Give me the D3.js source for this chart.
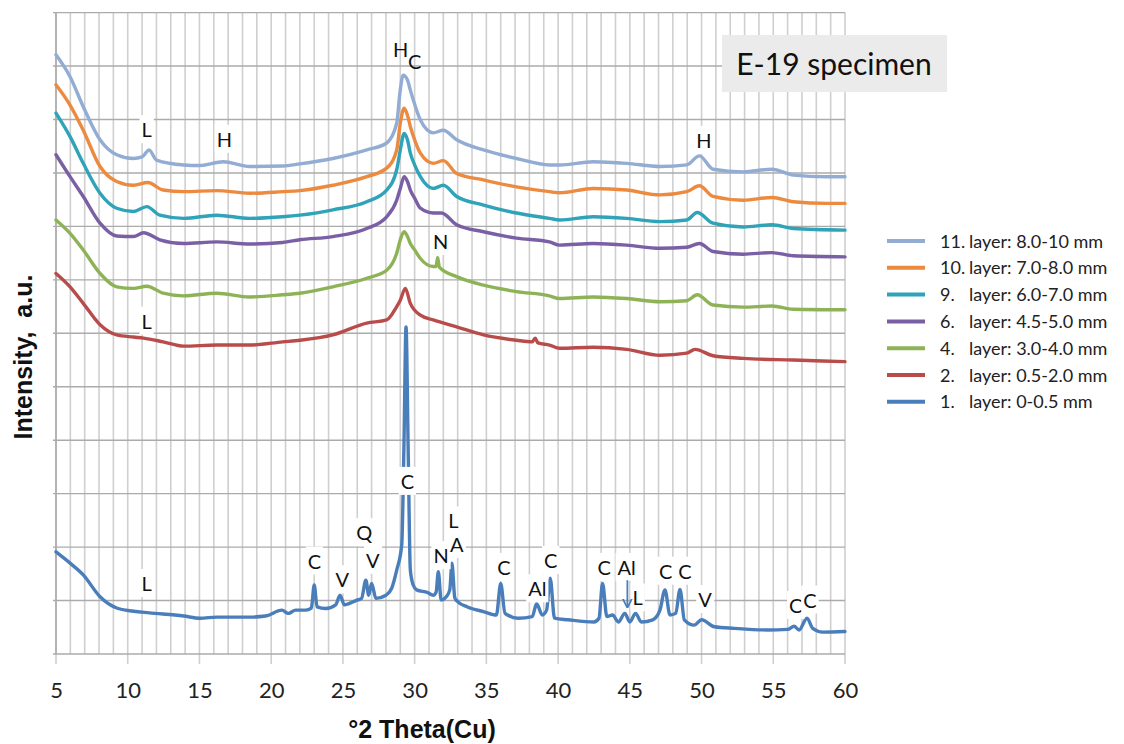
<!DOCTYPE html>
<html><head><meta charset="utf-8">
<script src="https://cdn.jsdelivr.net/npm/d3@7"></script>
<style>body{margin:0;background:#fff}</style>
</head><body><svg id="chart" width="1124" height="744"></svg>
<script>
// ---- data ----
const xTicks = [5,10,15,20,25,30,35,40,45,50,55,60];
const seriesNames = ["11. layer: 8.0-10 mm","10. layer: 7.0-8.0 mm","9.   layer: 6.0-7.0 mm","6.   layer: 4.5-5.0 mm","4.   layer: 3.0-4.0 mm","2.   layer: 0.5-2.0 mm","1.   layer: 0-0.5 mm"];
const seriesColors = ["#93ACD3","#EC8A3F","#2FA3B8","#7A5FA4","#8DB356","#B84C4B","#4A7EBB"];

const layer11 = [[5,11.21],[5.98,10.80],[6.9,10.24],[8.07,9.62],[9.23,9.34],[10.4,9.27],[11.0,9.30],[11.49,9.43],[12.0,9.24],[13.9,9.15],[15.04,9.14],[16.66,9.21],[18.5,9.12],[20.8,9.13],[22.0,9.17],[24.3,9.27],[26.66,9.43],[28.05,9.56],[28.75,9.93],[28.97,10.49],[29.2,10.83],[29.5,10.74],[29.7,10.55],[29.9,10.37],[30.4,9.99],[31.3,9.75],[32.0,9.80],[32.93,9.62],[34.8,9.43],[37.1,9.27],[39.4,9.15],[40.1,9.15],[42.45,9.21],[44.78,9.18],[47.1,9.12],[48.97,9.15],[49.85,9.32],[50.8,9.07],[52.9,9.02],[54.9,9.07],[56.4,8.96],[58.7,8.93],[60,8.93]];
const layer10 = [[5,10.65],[5.98,10.27],[6.9,9.80],[8.07,9.12],[9.23,8.84],[10.4,8.77],[11.4,8.82],[12.47,8.68],[13.9,8.65],[16.2,8.67],[18.5,8.62],[20.8,8.65],[22.0,8.67],[24.3,8.77],[26.66,8.93],[28.05,9.09],[28.75,9.43],[29.0,9.93],[29.27,10.21],[29.5,10.08],[29.7,9.87],[30.0,9.62],[30.4,9.37],[31.3,9.18],[32.0,9.23],[32.93,8.99],[34.8,8.87],[37.1,8.74],[39.4,8.65],[40.1,8.63],[42.45,8.71],[44.78,8.68],[47.1,8.59],[48.97,8.65],[49.85,8.76],[50.8,8.56],[52.9,8.49],[54.9,8.54],[56.4,8.46],[58.7,8.43],[60,8.43]];
const layer9 = [[5,10.12],[5.98,9.68],[6.9,9.18],[8.07,8.62],[9.23,8.34],[10.4,8.28],[11.33,8.37],[12.24,8.21],[13.9,8.15],[16.2,8.21],[18.5,8.15],[20.8,8.18],[22.0,8.21],[24.3,8.31],[26.66,8.46],[28.05,8.68],[28.75,9.06],[29.0,9.43],[29.27,9.74],[29.5,9.62],[29.7,9.37],[30.0,9.15],[30.4,8.93],[31.3,8.71],[32.0,8.77],[32.93,8.56],[34.8,8.40],[37.1,8.25],[39.4,8.15],[40.1,8.12],[42.45,8.18],[44.78,8.15],[47.1,8.09],[48.97,8.12],[49.7,8.26],[50.8,8.06],[52.9,7.99],[54.9,8.03],[56.4,7.96],[60,7.93]];
const layer6 = [[5,9.34],[5.98,8.93],[6.9,8.56],[8.07,8.06],[9.23,7.82],[10.4,7.81],[11.1,7.88],[12.24,7.75],[13.9,7.68],[16.2,7.71],[18.5,7.67],[20.8,7.70],[22.0,7.75],[24.3,7.81],[26.66,7.96],[28.05,8.18],[28.75,8.49],[29.0,8.71],[29.27,8.93],[29.5,8.84],[29.7,8.68],[30.0,8.53],[30.4,8.34],[31.3,8.25],[31.87,8.25],[32.93,8.03],[34.8,7.90],[37.1,7.78],[39.4,7.71],[40.1,7.65],[42.45,7.68],[44.78,7.65],[47.1,7.59],[48.97,7.61],[49.85,7.68],[50.8,7.53],[52.9,7.48],[54.9,7.51],[56.4,7.45],[60,7.43]];
const layer4 = [[5,8.12],[5.98,7.87],[6.9,7.56],[8.07,7.12],[9.23,6.87],[10.4,6.84],[11.33,6.88],[12.47,6.75],[13.9,6.70],[16.2,6.75],[18.5,6.68],[20.8,6.72],[22.0,6.75],[24.3,6.87],[26.66,7.03],[28.05,7.18],[28.75,7.50],[29.0,7.75],[29.27,7.90],[29.5,7.81],[29.7,7.68],[30.0,7.56],[30.4,7.40],[31.3,7.25],[31.5,7.25],[31.6,7.42],[31.72,7.24],[32.93,7.06],[34.8,6.90],[37.1,6.78],[39.4,6.70],[40.1,6.65],[42.45,6.68],[44.78,6.65],[47.1,6.59],[48.97,6.61],[49.7,6.72],[50.8,6.53],[52.9,6.49],[54.9,6.51],[56.4,6.45],[60,6.44]];
const layer2 = [[5,7.12],[5.98,6.87],[6.9,6.56],[8.07,6.16],[9.23,5.97],[10.4,5.93],[11.1,5.91],[12.47,5.84],[13.9,5.76],[16.2,5.78],[18.5,5.78],[20.8,5.84],[22.0,5.87],[24.3,5.97],[26.66,6.19],[28.05,6.25],[28.75,6.50],[29.0,6.62],[29.35,6.84],[29.7,6.56],[30.4,6.34],[31.3,6.25],[32.93,6.12],[34.8,5.97],[37.1,5.87],[38.2,5.84],[38.4,5.91],[38.6,5.82],[39.4,5.78],[40.1,5.72],[42.45,5.74],[44.78,5.70],[47.1,5.59],[48.97,5.63],[49.55,5.70],[50.8,5.58],[52.9,5.53],[56.4,5.50],[60,5.47]];
const layer1 = [[5,1.91],[5.98,1.70],[6.9,1.48],[8.07,1.07],[9.23,0.86],[10.4,0.80],[11.5,0.77],[13.9,0.71],[15.04,0.67],[16.2,0.69],[18.5,0.69],[19.6,0.71],[20.75,0.82],[21.2,0.76],[21.7,0.82],[22.4,0.82],[22.8,0.86],[23.0,1.29],[23.2,0.88],[23.8,0.85],[24.5,0.92],[24.8,1.10],[25.1,0.92],[25.9,1.00],[26.3,1.04],[26.6,1.38],[26.8,1.10],[27.0,1.32],[27.3,1.04],[28.0,1.10],[28.4,1.23],[28.75,1.57],[29.1,2.04],[29.25,3.82],[29.4,6.12],[29.55,3.82],[29.7,1.57],[29.9,1.29],[30.14,1.20],[30.9,1.15],[31.3,1.10],[31.5,1.16],[31.65,1.54],[31.85,1.01],[32.2,1.07],[32.45,1.20],[32.6,1.70],[32.8,1.05],[33.0,0.98],[33.68,0.88],[34.85,0.79],[35.7,0.73],[36.0,1.32],[36.3,0.76],[37.2,0.67],[38.2,0.70],[38.5,0.94],[38.9,0.73],[39.2,0.82],[39.45,1.42],[39.75,0.67],[40.7,0.64],[42.5,0.60],[42.85,0.67],[43.1,1.32],[43.4,0.70],[43.8,0.73],[44.2,0.60],[44.65,0.76],[45.0,0.60],[45.4,0.76],[45.8,0.60],[46.6,0.64],[47.1,0.82],[47.45,1.20],[47.8,0.73],[48.2,0.76],[48.5,1.21],[48.8,0.64],[49.5,0.54],[50.0,0.64],[50.9,0.51],[52.3,0.48],[54.6,0.45],[56.0,0.46],[56.45,0.52],[56.8,0.45],[57.35,0.67],[57.75,0.48],[58.45,0.41],[60,0.42]];
const seriesData = [layer11, layer10, layer9, layer6, layer4, layer2, layer1];

// peak labels (upper H/C drawn without background)
const labelText = ["L","H","H","C","N","H","L","L","C","C","V","Q","V","N","L","A","C","Al","C","C","Al","L","C","C","V","C","C"];
const labelTheta = [11.32,16.73,29.02,30.0,31.82,50.17,11.32,11.32,29.49,23.01,24.96,26.49,27.08,31.84,32.70,32.93,36.23,38.55,39.49,43.22,44.78,45.55,47.50,48.85,50.24,56.56,57.56];
const labelInt = [9.80,9.62,11.30,11.08,7.71,9.60,6.22,1.31,3.22,1.73,1.38,2.26,1.74,1.83,2.48,2.04,1.61,1.21,1.74,1.61,1.61,1.04,1.54,1.54,1.01,0.90,1.00];
const labelBg = [1,1,0,0,1,1,1,1,1,1,1,1,1,1,1,1,1,1,1,1,1,1,1,1,1,1,1];
const arrowTheta = [44.83,44.83];
const arrowInt = [1.38,0.88];

// ---- chart ----
const svg = d3.select("#chart");
svg.append("rect").attr("width",1124).attr("height",744).attr("fill","#fff");
const x = d3.scaleLinear().domain([5,60]).range([56,845]);
const y = d3.scaleLinear().domain([0,12]).range([654,12.6]);

// vertical grid (every degree)
const g = svg.append("g");
g.selectAll("line.v").data(d3.range(5,61)).join("line")
  .attr("x1",d=>x(d)).attr("x2",d=>x(d))
  .attr("y1",y(12)).attr("y2",d=> d%5===0 ? y(0)+10 : y(0))
  .attr("stroke","#CFCFCF").attr("stroke-width",1.6);
// horizontal grid
g.selectAll("line.h").data(d3.range(0,13)).join("line")
  .attr("x1",x(5)-3).attr("x2",x(60))
  .attr("y1",d=>y(d)).attr("y2",d=>y(d))
  .attr("stroke","#ABABAB").attr("stroke-width",1.4);
// left axis line
g.append("line").attr("x1",x(5)).attr("x2",x(5)).attr("y1",y(12)).attr("y2",y(0))
  .attr("stroke","#ABABAB").attr("stroke-width",1.6);

// x axis labels
const xAxis = svg.append("g").attr("transform",`translate(0,${y(0)})`)
  .call(d3.axisBottom(x).tickValues(xTicks).tickSize(0).tickPadding(44).tickFormat(d3.format("d")));
xAxis.select(".domain").remove();
xAxis.selectAll("text").attr("font-family","Lato, 'Open Sans', sans-serif").attr("font-size",22).attr("fill","#222").attr("dy",0);

// E-19 box
svg.append("rect").attr("x",722).attr("y",35).attr("width",225).attr("height",57).attr("fill","#EBEBEB");
svg.append("text").attr("x",834).attr("y",75).attr("text-anchor","middle")
  .attr("font-family","Lato, sans-serif").attr("font-size",30).attr("fill","#111").text("E-19 specimen");

// lines
const line = d3.line().x(d=>x(d[0])).y(d=>y(d[1])).curve(d3.curveMonotoneX);
const order = [6,5,4,3,2,1,0];
svg.append("g").selectAll("path").data(order).join("path")
  .attr("d",i=>line(seriesData[i])).attr("fill","none")
  .attr("stroke",i=>seriesColors[i]).attr("stroke-width",3.4)
  .attr("stroke-linejoin","round").attr("stroke-linecap","round");

// labels
const lg = svg.append("g");
labelText.forEach((t,i)=>{
  const gg = lg.append("g");
  const tx = gg.append("text").attr("x",x(labelTheta[i])).attr("y",y(labelInt[i])+7)
    .attr("text-anchor","middle").attr("font-family","Lato, sans-serif").attr("font-size",20).attr("fill","#111").text(t);
  if (labelBg[i]) {
    const bb = tx.node().getBBox();
    gg.insert("rect","text").attr("x",bb.x-2).attr("y",bb.y-2).attr("width",bb.width+4).attr("height",bb.height+4).attr("fill","#fff");
  }
});
// arrow
svg.append("defs").append("marker").attr("id","ah").attr("viewBox","0 0 10 10").attr("refX",9).attr("refY",5)
  .attr("markerWidth",5).attr("markerHeight",6).attr("orient","auto")
  .append("path").attr("d","M0,0 L10,5 L0,10").attr("fill","none").attr("stroke","#4A7EBB").attr("stroke-width",2);
svg.append("line").attr("x1",x(arrowTheta[0])).attr("x2",x(arrowTheta[1])).attr("y1",y(arrowInt[0])).attr("y2",y(arrowInt[1]))
  .attr("stroke","#4A7EBB").attr("stroke-width",1.8).attr("marker-end","url(#ah)");

// axis titles
svg.append("text").attr("x",422).attr("y",738).attr("text-anchor","middle")
  .attr("font-family","'Liberation Sans', Arial, sans-serif").attr("font-weight","bold").attr("font-size",25).attr("fill","#111")
  .text("°2 Theta(Cu)");
svg.append("text").attr("transform","translate(32,357) rotate(-90)").attr("text-anchor","middle")
  .attr("font-family","'Liberation Sans', Arial, sans-serif").attr("font-weight","bold").attr("font-size",25).attr("fill","#111")
  .style("white-space","pre").text("Intensity,  a.u.");

// legend
const leg = svg.append("g");
seriesNames.forEach((n,i)=>{
  const yy = 241 + i*26.8;
  leg.append("line").attr("x1",887).attr("x2",925).attr("y1",yy).attr("y2",yy)
    .attr("stroke",seriesColors[i]).attr("stroke-width",4);
  const parts = n.split(/\s+(?=layer)/);
  leg.append("text").attr("x",940).attr("y",yy+6.5).attr("font-family","Lato, sans-serif").attr("font-size",18).attr("fill","#222").text(parts[0]);
  leg.append("text").attr("x",969).attr("y",yy+6.5).attr("font-family","Lato, sans-serif").attr("font-size",18).attr("fill","#222").text(parts[1]);
});
</script></body></html>
